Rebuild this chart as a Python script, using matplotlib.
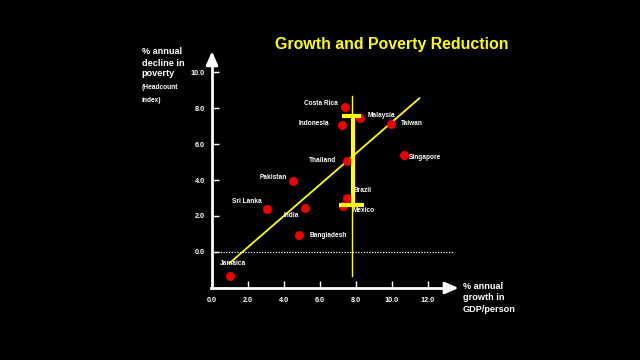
import matplotlib
matplotlib.use("Agg")
import matplotlib.pyplot as plt

countries = ["Costa Rica", "Malaysia", "Indonesia", "Taiwan", "Thailand", "Singapore",
             "Pakistan", "Brazil", "Mexico", "Sri Lanka", "India", "Bangladesh", "Jamaica"]
growth = [7.39, 8.22, 7.20, 9.94, 7.48, 10.67, 4.52, 7.48, 7.26, 3.06, 5.17, 4.81, 1.00]
decline = [8.07, 7.46, 7.07, 7.11, 5.07, 5.41, 3.96, 3.02, 2.57, 2.41, 2.46, 0.96, -1.32]

fit_x = [0.96, 11.52]
fit_y = [-0.63, 8.54]

vline_x = 7.8
vline_y = [-1.33, 8.67]
bar_x = 7.85
bar_y = [2.61, 7.56]
cap_top_x = [7.2, 8.3]
cap_bot_x = [7.07, 8.44]

xticks = [2, 4, 6, 8, 10, 12]
xtick_labels = ["0.0", "2.0", "4.0", "6.0", "8.0", "10.0", "12.0"]
yticks = [0, 2, 4, 6, 8, 10]
ytick_labels = ["0.0", "2.0", "4.0", "6.0", "8.0", "10.0"]

# label offsets in pixels (dx, dy, ha)
label_offsets = {
    "Costa Rica": (-7, 3, "right"),
    "Malaysia": (8, 2, "left"),
    "Indonesia": (-12, 1, "right"),
    "Taiwan": (10, 1, "left"),
    "Thailand": (-10, 0, "right"),
    "Singapore": (5, -3, "left"),
    "Pakistan": (-6, 3, "right"),
    "Brazil": (7, 7, "left"),
    "Mexico": (10, -5, "left"),
    "Sri Lanka": (-5, 7, "right"),
    "India": (-6, -8, "right"),
    "Bangladesh": (11, -1, "left"),
    "Jamaica": (-10, 12, "left"),
}

plt.rcParams['font.family'] = ['Liberation Sans', 'DejaVu Sans']
plt.rcParams['font.weight'] = 'bold'

DPI = 100
fig = plt.figure(figsize=(6.4, 3.6), dpi=DPI, facecolor="black")
ax = fig.add_axes([208.4 / 640, (360 - 293.4) / 360, 252 / 640, (293.4 - 48.6) / 360])
ax.set_facecolor("black")
ax.set_xlim(-0.2, 13.8)
ax.set_ylim(-2.3, 11.3)

YEL = "#ffff00"
WHITE = "white"

# dotted zero line
ax.plot([0, 13.4], [0, 0], color=WHITE, lw=0.9, ls=(0, (1, 1.2)), zorder=1)

# regression line
ax.plot(fit_x, fit_y, color=YEL, lw=1.3, zorder=2)
# thin vertical line
ax.plot([vline_x, vline_x], vline_y, color=YEL, lw=1.0, zorder=2)
# thick bar
ax.plot([bar_x, bar_x], bar_y, color=YEL, lw=3, zorder=4, solid_capstyle="butt")
ax.plot(cap_top_x, [bar_y[1], bar_y[1]], color=YEL, lw=3, zorder=4, solid_capstyle="butt")
ax.plot(cap_bot_x, [bar_y[0], bar_y[0]], color=YEL, lw=3, zorder=4, solid_capstyle="butt")

# points
ax.scatter(growth, decline, s=(9 * 72 / DPI) ** 2, color="#f00000", zorder=3, linewidths=0)

pt = 72 / DPI
for c, x, y in zip(countries, growth, decline):
    dx, dy, ha = label_offsets[c]
    ax.annotate(c, (x, y), xytext=(dx * pt, dy * pt), textcoords="offset points",
                ha=ha, va="center", color=WHITE, fontsize=4.7, fontweight="bold", zorder=5)

# spines
for s in ["top", "right"]:
    ax.spines[s].set_visible(False)
ax.spines["left"].set_position(("data", 0))
ax.spines["bottom"].set_position(("data", -2))
ax.spines["left"].set_bounds(-2, 10.7)
ax.spines["bottom"].set_bounds(-0.05, 13.2)
for s in ["left", "bottom"]:
    ax.spines[s].set_color(WHITE)
    ax.spines[s].set_linewidth(2)

# arrow heads
ax.annotate("", xy=(0, 11.15), xytext=(0, 10.5),
            arrowprops=dict(arrowstyle="-|>,head_length=0.8,head_width=0.35", color=WHITE, lw=2,
                            shrinkA=0, shrinkB=0, mutation_scale=10), annotation_clip=False)
ax.annotate("", xy=(13.7, -2), xytext=(13.0, -2),
            arrowprops=dict(arrowstyle="-|>,head_length=0.8,head_width=0.35", color=WHITE, lw=2,
                            shrinkA=0, shrinkB=0, mutation_scale=10), annotation_clip=False)

ax.set_xticks(xticks)
ax.set_xticklabels([])
ax.set_yticks(yticks)
ax.set_yticklabels(ytick_labels)
ax.tick_params(axis="both", direction="in", colors=WHITE, length=5, width=1, labelsize=5.2, pad=4)
ax.tick_params(axis="y", pad=5)
# x tick labels, including 0.0 under the origin
for v, lab in zip([0] + xticks, xtick_labels):
    ax.annotate(lab, (v, -2), xytext=(0, -12 * pt), textcoords="offset points",
                ha="center", va="center", color=WHITE, fontsize=5.2, fontweight="bold",
                annotation_clip=False)
for lab in ax.get_yticklabels():
    lab.set_fontweight("bold")

# titles
fig.text(392 / 640, 1 - 45 / 360, "Growth and Poverty Reduction", color=YEL,
         fontsize=11.4, fontweight="bold", ha="center", va="center")
for txt, yy in [("% annual", 52), ("decline in", 63), ("poverty", 74)]:
    fig.text(141.7 / 640, 1 - yy / 360, txt, color=WHITE, fontsize=6.6, fontweight="bold",
             ha="left", va="center")
for txt, yy in [("(Headcount", 87.3), ("index)", 100)]:
    fig.text(141.7 / 640, 1 - yy / 360, txt, color=WHITE, fontsize=4.8, fontweight="bold",
             ha="left", va="center")
for txt, yy in [("% annual", 286.7), ("growth in", 298), ("GDP/person", 309)]:
    fig.text(462.7 / 640, 1 - yy / 360, txt, color=WHITE, fontsize=6.6, fontweight="bold",
             ha="left", va="center")

fig.savefig("out.png", dpi=DPI, facecolor="black")
